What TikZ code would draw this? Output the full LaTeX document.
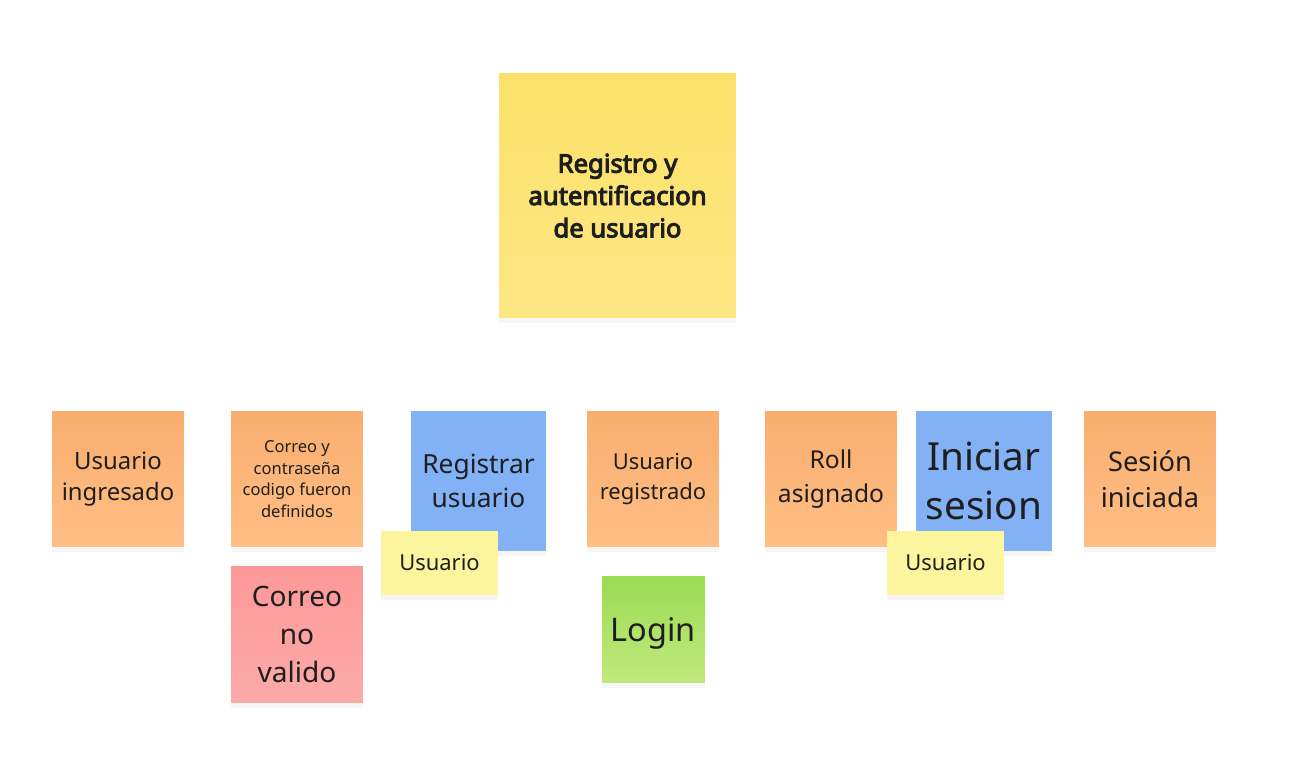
\documentclass[tikz,border=0pt]{standalone}
\usepackage{fontspec}
\setmainfont{Noto Sans}
\newfontfamily\negrita[FakeBold=4]{Noto Sans}
\usetikzlibrary{shadows}

\definecolor{naranjatop}{HTML}{F9AE6E}
\definecolor{naranjabot}{HTML}{FFBE85}
\definecolor{azul}{HTML}{82B1F5}
\definecolor{amarillotop}{HTML}{FBE16A}
\definecolor{amarillobot}{HTML}{FEE783}
\definecolor{claro}{HTML}{FDF59E}
\definecolor{rosa}{HTML}{FDA0A0}
\definecolor{verde}{HTML}{B3E35F}
\definecolor{texto}{HTML}{1E1E1E}

\begin{document}
\begin{tikzpicture}[x=0.02cm,y=-0.02cm,
    nota/.style={inner sep=0pt, align=center, text=texto,
      drop shadow={opacity=0.07, shadow xshift=0pt, shadow yshift=-3pt}},
    cuadro/.style={nota, minimum width=2.64cm, minimum height=2.72cm,
      top color=naranjatop, bottom color=naranjabot}]

  \useasboundingbox[fill=white] (0,0) rectangle (1306,768);

  \node[nota, minimum width=4.74cm, minimum height=4.9cm, text depth=0pt,
    top color=amarillotop, bottom color=amarillobot,
    font=\fontsize{14.6}{18.4}\selectfont\negrita] (titulo) at (617.5,195.5)
    {Registro y\\autentificacion\\de usuario};

  \node[cuadro, font=\fontsize{13.6}{18}\selectfont] (ingresado) at (118,479)
    {Usuario\\ingresado};

  \node[cuadro, font=\fontsize{9.4}{12.4}\selectfont] (definidos) at (297,479)
    {Correo y\\contraseña\\codigo fueron\\definidos};

  \node[nota, minimum width=2.64cm, minimum height=2.74cm,
    top color=rosa!95!red, bottom color=rosa!90!white,
    font=\fontsize{16}{21.5}\selectfont] (novalido) at (297,634.5)
    {Correo\\no\\valido};

  \node[nota, minimum width=2.7cm, minimum height=2.8cm, fill=azul,
    font=\fontsize{15}{19.8}\selectfont] (registrar) at (478.5,481)
    {Registrar\\usuario};

  \node[nota, minimum width=2.34cm, minimum height=1.28cm, fill=claro,
    font=\fontsize{12.5}{15}\selectfont] (actor1) at (439.5,563)
    {Usuario};

  \node[cuadro, font=\fontsize{12.5}{17}\selectfont] (registrado) at (653,479)
    {Usuario\\registrado};

  \node[nota, minimum width=2.06cm, minimum height=2.14cm, text depth=0pt,
    top color=verde!95!black!90!green, bottom color=verde!80!white,
    font=\fontsize{18.5}{22}\selectfont] (login) at (653.5,629.5)
    {Login};

  \node[cuadro, font=\fontsize{14}{19}\selectfont] (roll) at (831,479)
    {Roll\\asignado};

  \node[nota, minimum width=2.72cm, minimum height=2.8cm, fill=azul,
    font=\fontsize{22}{28.3}\selectfont] (iniciar) at (984,481)
    {Iniciar\\sesion};

  \node[nota, minimum width=2.34cm, minimum height=1.28cm, fill=claro,
    font=\fontsize{12.5}{15}\selectfont] (actor2) at (945.5,563)
    {Usuario};

  \node[cuadro, font=\fontsize{15.5}{20.4}\selectfont] (iniciada) at (1150,479)
    {Sesión\\iniciada};

\end{tikzpicture}
\end{document}
